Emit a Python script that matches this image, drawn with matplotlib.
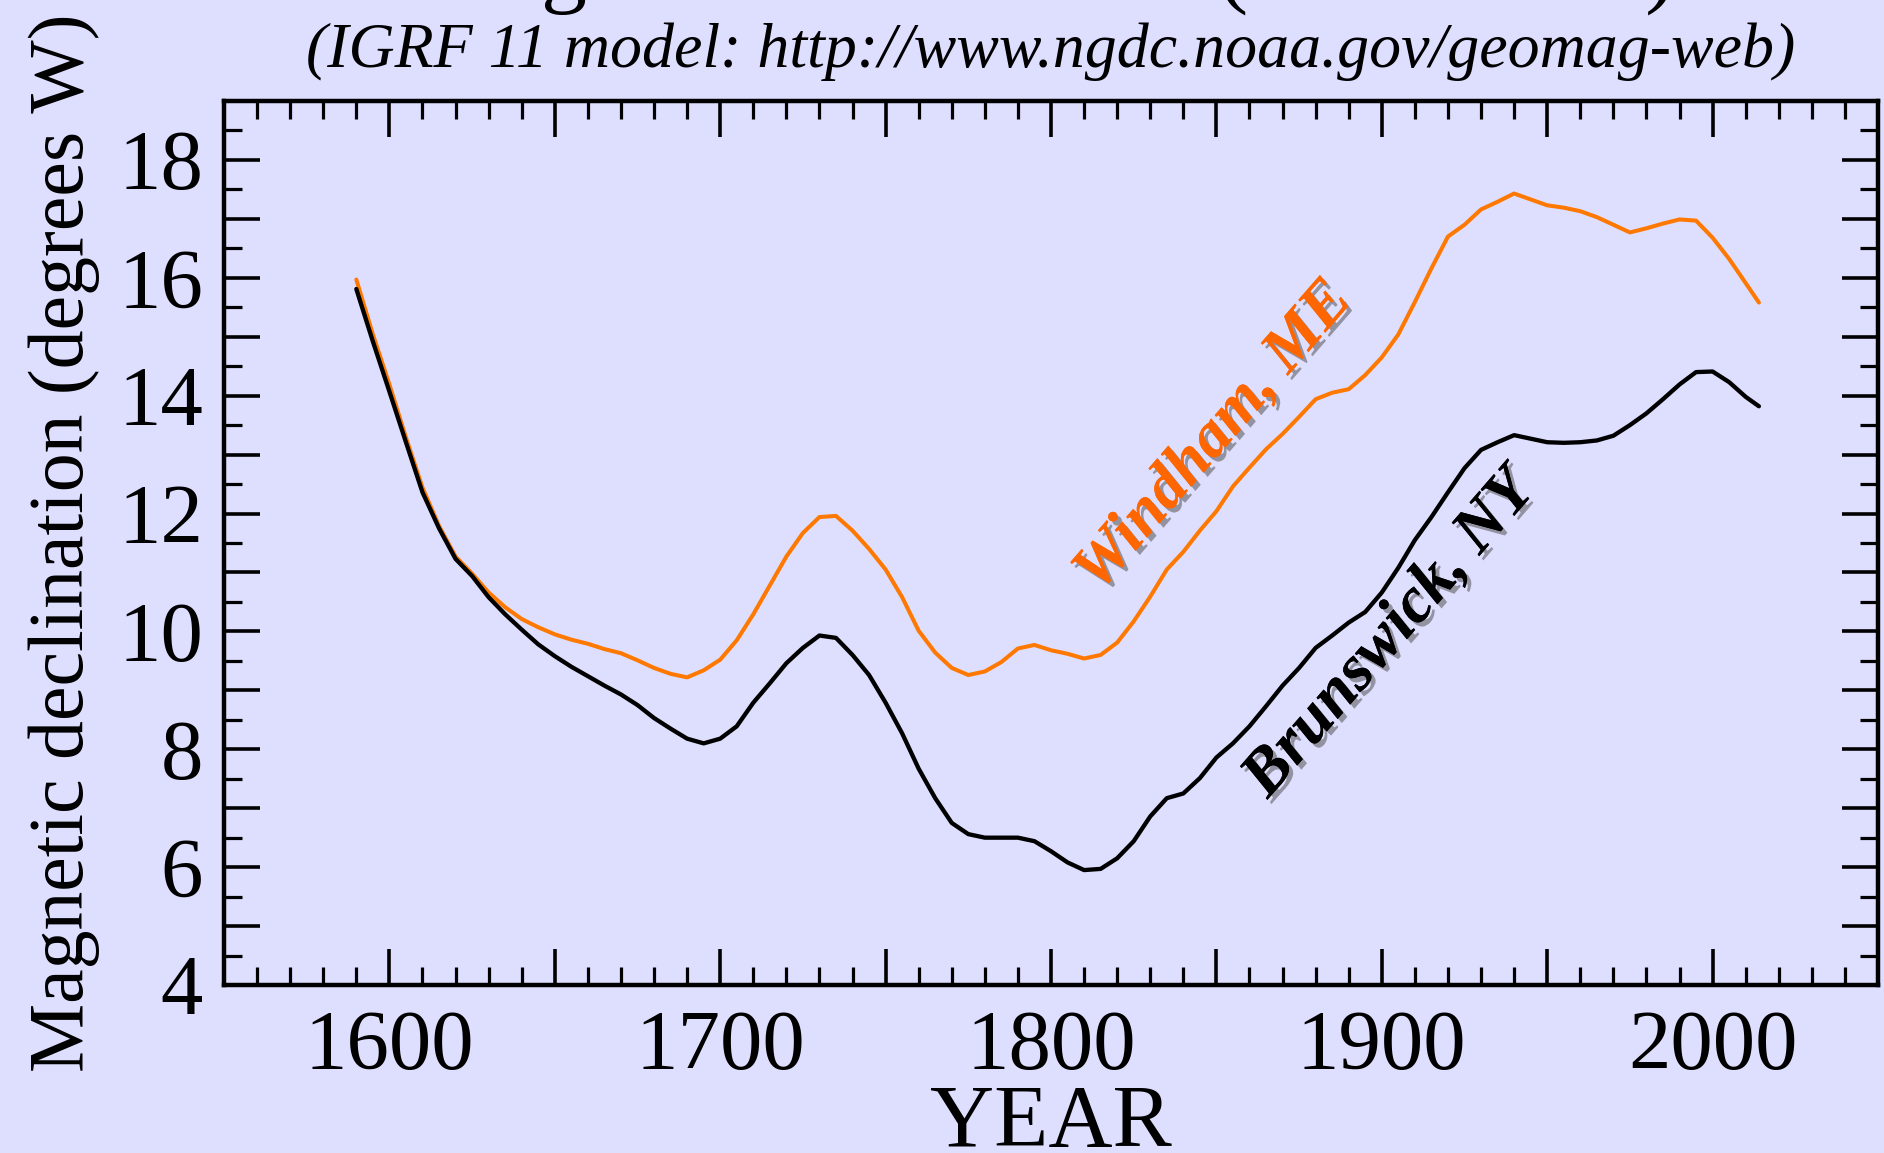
import matplotlib
matplotlib.use("Agg")
import matplotlib.pyplot as plt
import matplotlib.patheffects as pe
from matplotlib.ticker import MultipleLocator, FuncFormatter

# ---- data ----
years = [1590, 1595, 1600, 1605, 1610, 1615, 1620, 1625, 1630, 1635, 1640, 1645,
         1650, 1655, 1660, 1665, 1670, 1675, 1680, 1685, 1690, 1695, 1700, 1705,
         1710, 1715, 1720, 1725, 1730, 1735, 1740, 1745, 1750, 1755, 1760, 1765,
         1770, 1775, 1780, 1785, 1790, 1795, 1800, 1805, 1810, 1815, 1820, 1825,
         1830, 1835, 1840, 1845, 1850, 1855, 1860, 1865, 1870, 1875, 1880, 1885,
         1890, 1895, 1900, 1905, 1910, 1915, 1920, 1925, 1930, 1935, 1940, 1945,
         1950, 1955, 1960, 1965, 1970, 1975, 1980, 1985, 1990, 1995, 2000, 2005,
         2010, 2014]

windham_me = [15.97, 15.04, 14.19, 13.29, 12.44, 11.79, 11.27, 10.98, 10.66, 10.41, 10.21, 10.07,
              9.95, 9.86, 9.79, 9.70, 9.63, 9.51, 9.38, 9.28, 9.22, 9.34, 9.52, 9.85,
              10.29, 10.78, 11.27, 11.67, 11.94, 11.96, 11.71, 11.40, 11.05, 10.58, 10.01, 9.64,
              9.38, 9.26, 9.32, 9.48, 9.71, 9.77, 9.68, 9.62, 9.54, 9.60, 9.81, 10.17,
              10.59, 11.05, 11.35, 11.71, 12.04, 12.46, 12.78, 13.09, 13.35, 13.64, 13.94, 14.05,
              14.11, 14.35, 14.65, 15.04, 15.59, 16.16, 16.70, 16.90, 17.16, 17.29, 17.43, 17.33,
              17.23, 17.19, 17.13, 17.03, 16.90, 16.77, 16.84, 16.92, 16.99, 16.97, 16.68, 16.32,
              15.91, 15.58]

brunswick_ny = [15.81, 14.92, 14.07, 13.21, 12.36, 11.75, 11.23, 10.94, 10.58, 10.29, 10.03, 9.78,
                9.58, 9.40, 9.24, 9.08, 8.93, 8.75, 8.53, 8.35, 8.18, 8.10, 8.18, 8.39,
                8.79, 9.12, 9.46, 9.72, 9.93, 9.89, 9.60, 9.26, 8.79, 8.27, 7.67, 7.17,
                6.75, 6.56, 6.50, 6.50, 6.50, 6.44, 6.27, 6.08, 5.95, 5.97, 6.15, 6.44,
                6.86, 7.17, 7.25, 7.51, 7.86, 8.10, 8.39, 8.73, 9.08, 9.38, 9.72, 9.93,
                10.15, 10.33, 10.66, 11.08, 11.55, 11.94, 12.36, 12.77, 13.08, 13.21, 13.33, 13.27,
                13.21, 13.20, 13.21, 13.24, 13.32, 13.50, 13.70, 13.94, 14.19, 14.40, 14.41, 14.23,
                13.98, 13.82]

series_names = ["Windham, ME", "Brunswick, NY"]
title_text = "Magnetic declination (1590-2015)"
subtitle_text = "(IGRF 11 model: http://www.ngdc.noaa.gov/geomag-web)"
x_label = "YEAR"
y_label = "Magnetic declination (degrees W)"

# ---- style ----
BG = "#dedeff"
ORANGE_LINE = "#ff7800"
ORANGE_TEXT = "#ff6600"
plt.rcParams["font.family"] = ["Liberation Serif", "DejaVu Serif"]

W, H = 1884, 1153
fig = plt.figure(figsize=(W / 100, H / 100), dpi=100, facecolor=BG)
left, right, top, bottom = 224, 1878, 101, 985
ax = fig.add_axes([left / W, 1 - bottom / H, (right - left) / W, (bottom - top) / H])
ax.set_facecolor(BG)

ax.plot(years, windham_me, color=ORANGE_LINE, lw=2.9, solid_joinstyle="round",
        solid_capstyle="round", zorder=3)
ax.plot(years, brunswick_ny, color="black", lw=3.1, solid_joinstyle="round",
        solid_capstyle="round", zorder=3)

ax.set_xlim(1550, 2050)
ax.set_ylim(4, 19)

ax.xaxis.set_major_locator(MultipleLocator(50))
ax.xaxis.set_minor_locator(MultipleLocator(10))
ax.yaxis.set_major_locator(MultipleLocator(1))
ax.yaxis.set_minor_locator(MultipleLocator(0.5))
ax.xaxis.set_major_formatter(FuncFormatter(lambda v, p: f"{int(round(v))}" if round(v) % 100 == 0 else ""))
ax.yaxis.set_major_formatter(FuncFormatter(lambda v, p: f"{int(round(v))}" if round(v) % 2 == 0 else ""))

ax.tick_params(which="both", direction="in", top=True, right=True, color="black")
ax.tick_params(which="major", length=26, width=2.6)
ax.tick_params(which="minor", length=13, width=2.3)
ax.tick_params(axis="x", which="major", labelsize=61, pad=18)
ax.tick_params(axis="y", which="major", labelsize=61, pad=15)
for s in ax.spines.values():
    s.set_linewidth(3.2)

ax.set_xlabel(x_label, fontsize=64)
ax.xaxis.set_label_coords(0.5, -0.112)
ax.set_ylabel(y_label, fontsize=56)
ax.yaxis.set_label_coords(-0.075, 0.5)

shadow = [pe.withSimplePatchShadow(offset=(3, -3), shadow_rgbFace="#555555", alpha=0.55), pe.Normal()]
ax.text(1849.5, 13.3, series_names[0], color=ORANGE_TEXT, fontsize=46, fontweight="bold",
        fontstyle="italic", rotation=49, rotation_mode="anchor", ha="center", va="center",
        path_effects=shadow, zorder=4)
ax.text(1902.5, 9.95, series_names[1], color="black", fontsize=47, fontweight="bold",
        fontstyle="italic", rotation=49, rotation_mode="anchor", ha="center", va="center",
        path_effects=shadow, zorder=4)

fig.text(1047 / W, 1 + 4 / H, title_text, fontsize=66, ha="center", va="baseline")
fig.text(1051 / W, 1 - 67 / H, subtitle_text, fontsize=46, fontstyle="italic",
         ha="center", va="baseline")

fig.savefig("out.png", dpi=100, facecolor=BG)
